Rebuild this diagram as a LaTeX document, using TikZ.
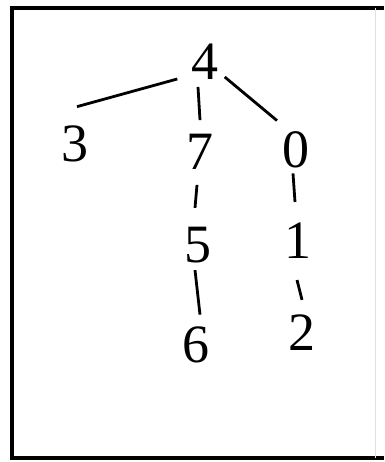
\documentclass[tikz,border=0pt]{standalone}
\usepackage{fontspec}
\setmainfont{Liberation Serif}
\usetikzlibrary{calc}

\begin{document}
\begin{tikzpicture}[ x=1pt, y=-1pt, frame/.style={line width=4.5pt},
      edge/.style={line width=2.8pt}, every node/.style={inner sep=0pt,
        font=\fontsize{54}{60}\selectfont} ]

      \useasboundingbox (0,0) rectangle (384,462);

      % Frame
      \draw[frame] (384,8) -- (12,8) -- (12,458) -- (384,458);
      \draw[black!12, line width=0.6pt] (375,8) -- (375,458);

      % Digits
      \node (n4) at (205,62) {4};
      \node (n3) at (75,144) {3};
      \node (n7) at (200,152) {7};
      \node (n0) at (296,150) {0};
      \node (n5) at (198,245) {5};
      \node (n1) at (298,241) {1};
      \node (n6) at (196,345) {6};
      \node (n2) at (302,333) {2};

      % Edges
      \draw[edge] ([shift={(-14,-1)}]n4.south west) -- ([shift={(2,-19)}]n3.north);
      \draw[edge] ([shift={(-7,7)}]n4.south) -- ([shift={(0,-14)}]n7.north);
      \draw[edge] ([shift={(6,-3)}]n4.south east) -- ([shift={(-19,-11)}]n0.north);
      \draw[edge] ([shift={(-3,15)}]n7.south) -- ([shift={(-3,-19)}]n5.north);
      \draw[edge] ([shift={(-3,5)}]n0.south) -- ([shift={(-3,-21)}]n1.north);
      \draw[edge] ([shift={(-3,7)}]n5.south) -- ([shift={(4,-12)}]n6.north);
      \draw[edge] ([shift={(-1,21)}]n1.south) -- ([shift={(0,-15)}]n2.north);
    \end{tikzpicture}
\end{document}
